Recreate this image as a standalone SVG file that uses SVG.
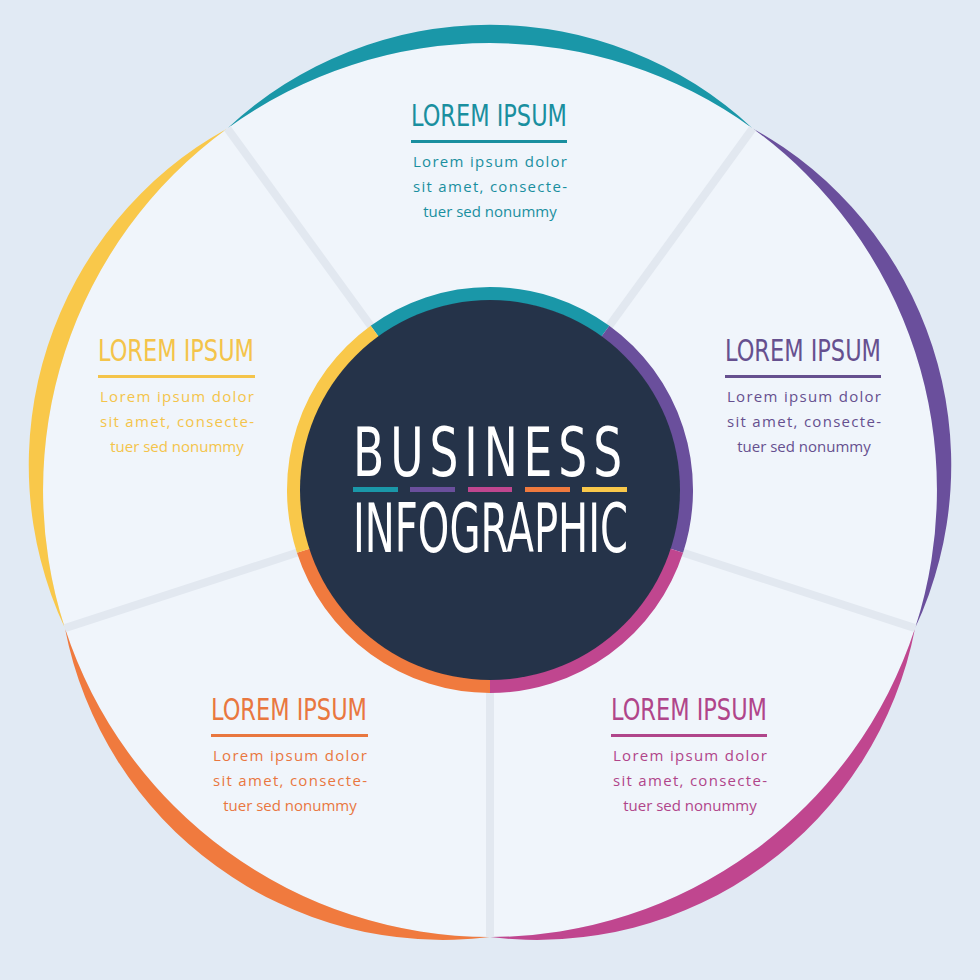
<svg xmlns="http://www.w3.org/2000/svg" width="980" height="980" viewBox="0 0 980 980">
<style>
.t{font-family:"DejaVu Sans Condensed","DejaVu Sans",sans-serif;font-size:31px;text-anchor:middle}
.b{font-family:"Open Sans","Liberation Sans",sans-serif;font-size:15px}
.c{font-family:"DejaVu Sans Condensed","DejaVu Sans",sans-serif;fill:#fff;font-size:68px}
.sep{stroke:#e2e8f0;stroke-width:8}
.ring{fill:none;stroke-width:14}
</style>
<rect width="980" height="980" fill="#e1eaf4"/>
<circle cx="490" cy="490" r="447" fill="#f0f5fb"/>
<g id="crescents">
<path d="M227.3,128.4 A385,385 0 0 1 752.7,128.4 A447,447 0 0 0 227.3,128.4Z" fill="#1a97a8"/>
<path d="M752.7,128.4 A385,385 0 0 1 915.1,628.1 A447,447 0 0 0 752.7,128.4Z" fill="#6a4f9c"/>
<path d="M915.1,628.1 A385,385 0 0 1 490,937 A447,447 0 0 0 915.1,628.1Z" fill="#c0468f"/>
<path d="M490,937 A385,385 0 0 1 64.9,628.1 A447,447 0 0 0 490,937Z" fill="#f07a3e"/>
<path d="M64.9,628.1 A385,385 0 0 1 227.3,128.4 A447,447 0 0 0 64.9,628.1Z" fill="#f9c84a"/>
</g>
<g id="connectors">
<line class="sep" x1="372.4" y1="328.2" x2="227.3" y2="128.4"/>
<line class="sep" x1="607.6" y1="328.2" x2="752.7" y2="128.4"/>
<line class="sep" x1="680.2" y1="551.8" x2="915.1" y2="628.1"/>
<line class="sep" x1="490" y1="690" x2="490" y2="937"/>
<line class="sep" x1="299.8" y1="551.8" x2="64.9" y2="628.1"/>
</g>
<g id="center">
<path class="ring" d="M374.8,331.4 A196,196 0 0 1 605.2,331.4" stroke="#1a97a8"/>
<path class="ring" d="M605.2,331.4 A196,196 0 0 1 676.4,550.6" stroke="#6a4f9c"/>
<path class="ring" d="M676.4,550.6 A196,196 0 0 1 490,686" stroke="#c0468f"/>
<path class="ring" d="M490,686 A196,196 0 0 1 303.6,550.6" stroke="#f07a3e"/>
<path class="ring" d="M303.6,550.6 A196,196 0 0 1 374.8,331.4" stroke="#f9c84a"/>
<circle cx="490" cy="490" r="190" fill="#253349"/>
<text class="c" x="353" y="476" textLength="275" lengthAdjust="spacingAndGlyphs" letter-spacing="8">BUSINESS</text>
<rect x="353" y="487" width="45" height="5" fill="#1a97a8"/>
<rect x="410" y="487" width="45" height="5" fill="#6a4f9c"/>
<rect x="468" y="487" width="44" height="5" fill="#c0468f"/>
<rect x="525" y="487" width="45" height="5" fill="#f07a3e"/>
<rect x="582" y="487" width="45" height="5" fill="#f9c84a"/>
<text class="c" x="353" y="552" font-size="66" textLength="275" lengthAdjust="spacingAndGlyphs">INFOGRAPHIC</text>
</g>
<g id="n1" fill="#1a8f9f">
<text class="t" x="489" y="126" textLength="156" lengthAdjust="spacingAndGlyphs">LOREM IPSUM</text>
<rect x="411" y="140" width="156" height="3"/>
<text class="b" x="413" y="167" textLength="154">Lorem ipsum dolor</text>
<text class="b" x="413" y="192" textLength="154">sit amet, consecte-</text>
<text class="b" x="490" y="217" text-anchor="middle">tuer sed nonummy</text>
</g>
<g id="n2" fill="#f4c44a">
<text class="t" x="176" y="361" textLength="156" lengthAdjust="spacingAndGlyphs">LOREM IPSUM</text>
<rect x="98" y="375" width="157" height="3"/>
<text class="b" x="100" y="402" textLength="154">Lorem ipsum dolor</text>
<text class="b" x="100" y="427" textLength="154">sit amet, consecte-</text>
<text class="b" x="177" y="452" text-anchor="middle">tuer sed nonummy</text>
</g>
<g id="n3" fill="#66508f">
<text class="t" x="803" y="361" textLength="156" lengthAdjust="spacingAndGlyphs">LOREM IPSUM</text>
<rect x="725" y="375" width="156" height="3"/>
<text class="b" x="727" y="402" textLength="154">Lorem ipsum dolor</text>
<text class="b" x="727" y="427" textLength="154">sit amet, consecte-</text>
<text class="b" x="804" y="452" text-anchor="middle">tuer sed nonummy</text>
</g>
<g id="n4" fill="#e9773f">
<text class="t" x="289" y="720" textLength="156" lengthAdjust="spacingAndGlyphs">LOREM IPSUM</text>
<rect x="211" y="734" width="157" height="3"/>
<text class="b" x="213" y="761" textLength="154">Lorem ipsum dolor</text>
<text class="b" x="213" y="786" textLength="154">sit amet, consecte-</text>
<text class="b" x="290" y="811" text-anchor="middle">tuer sed nonummy</text>
</g>
<g id="n5" fill="#b0458a">
<text class="t" x="689" y="720" textLength="156" lengthAdjust="spacingAndGlyphs">LOREM IPSUM</text>
<rect x="611" y="734" width="156" height="3"/>
<text class="b" x="613" y="761" textLength="154">Lorem ipsum dolor</text>
<text class="b" x="613" y="786" textLength="154">sit amet, consecte-</text>
<text class="b" x="690" y="811" text-anchor="middle">tuer sed nonummy</text>
</g>
</svg>
